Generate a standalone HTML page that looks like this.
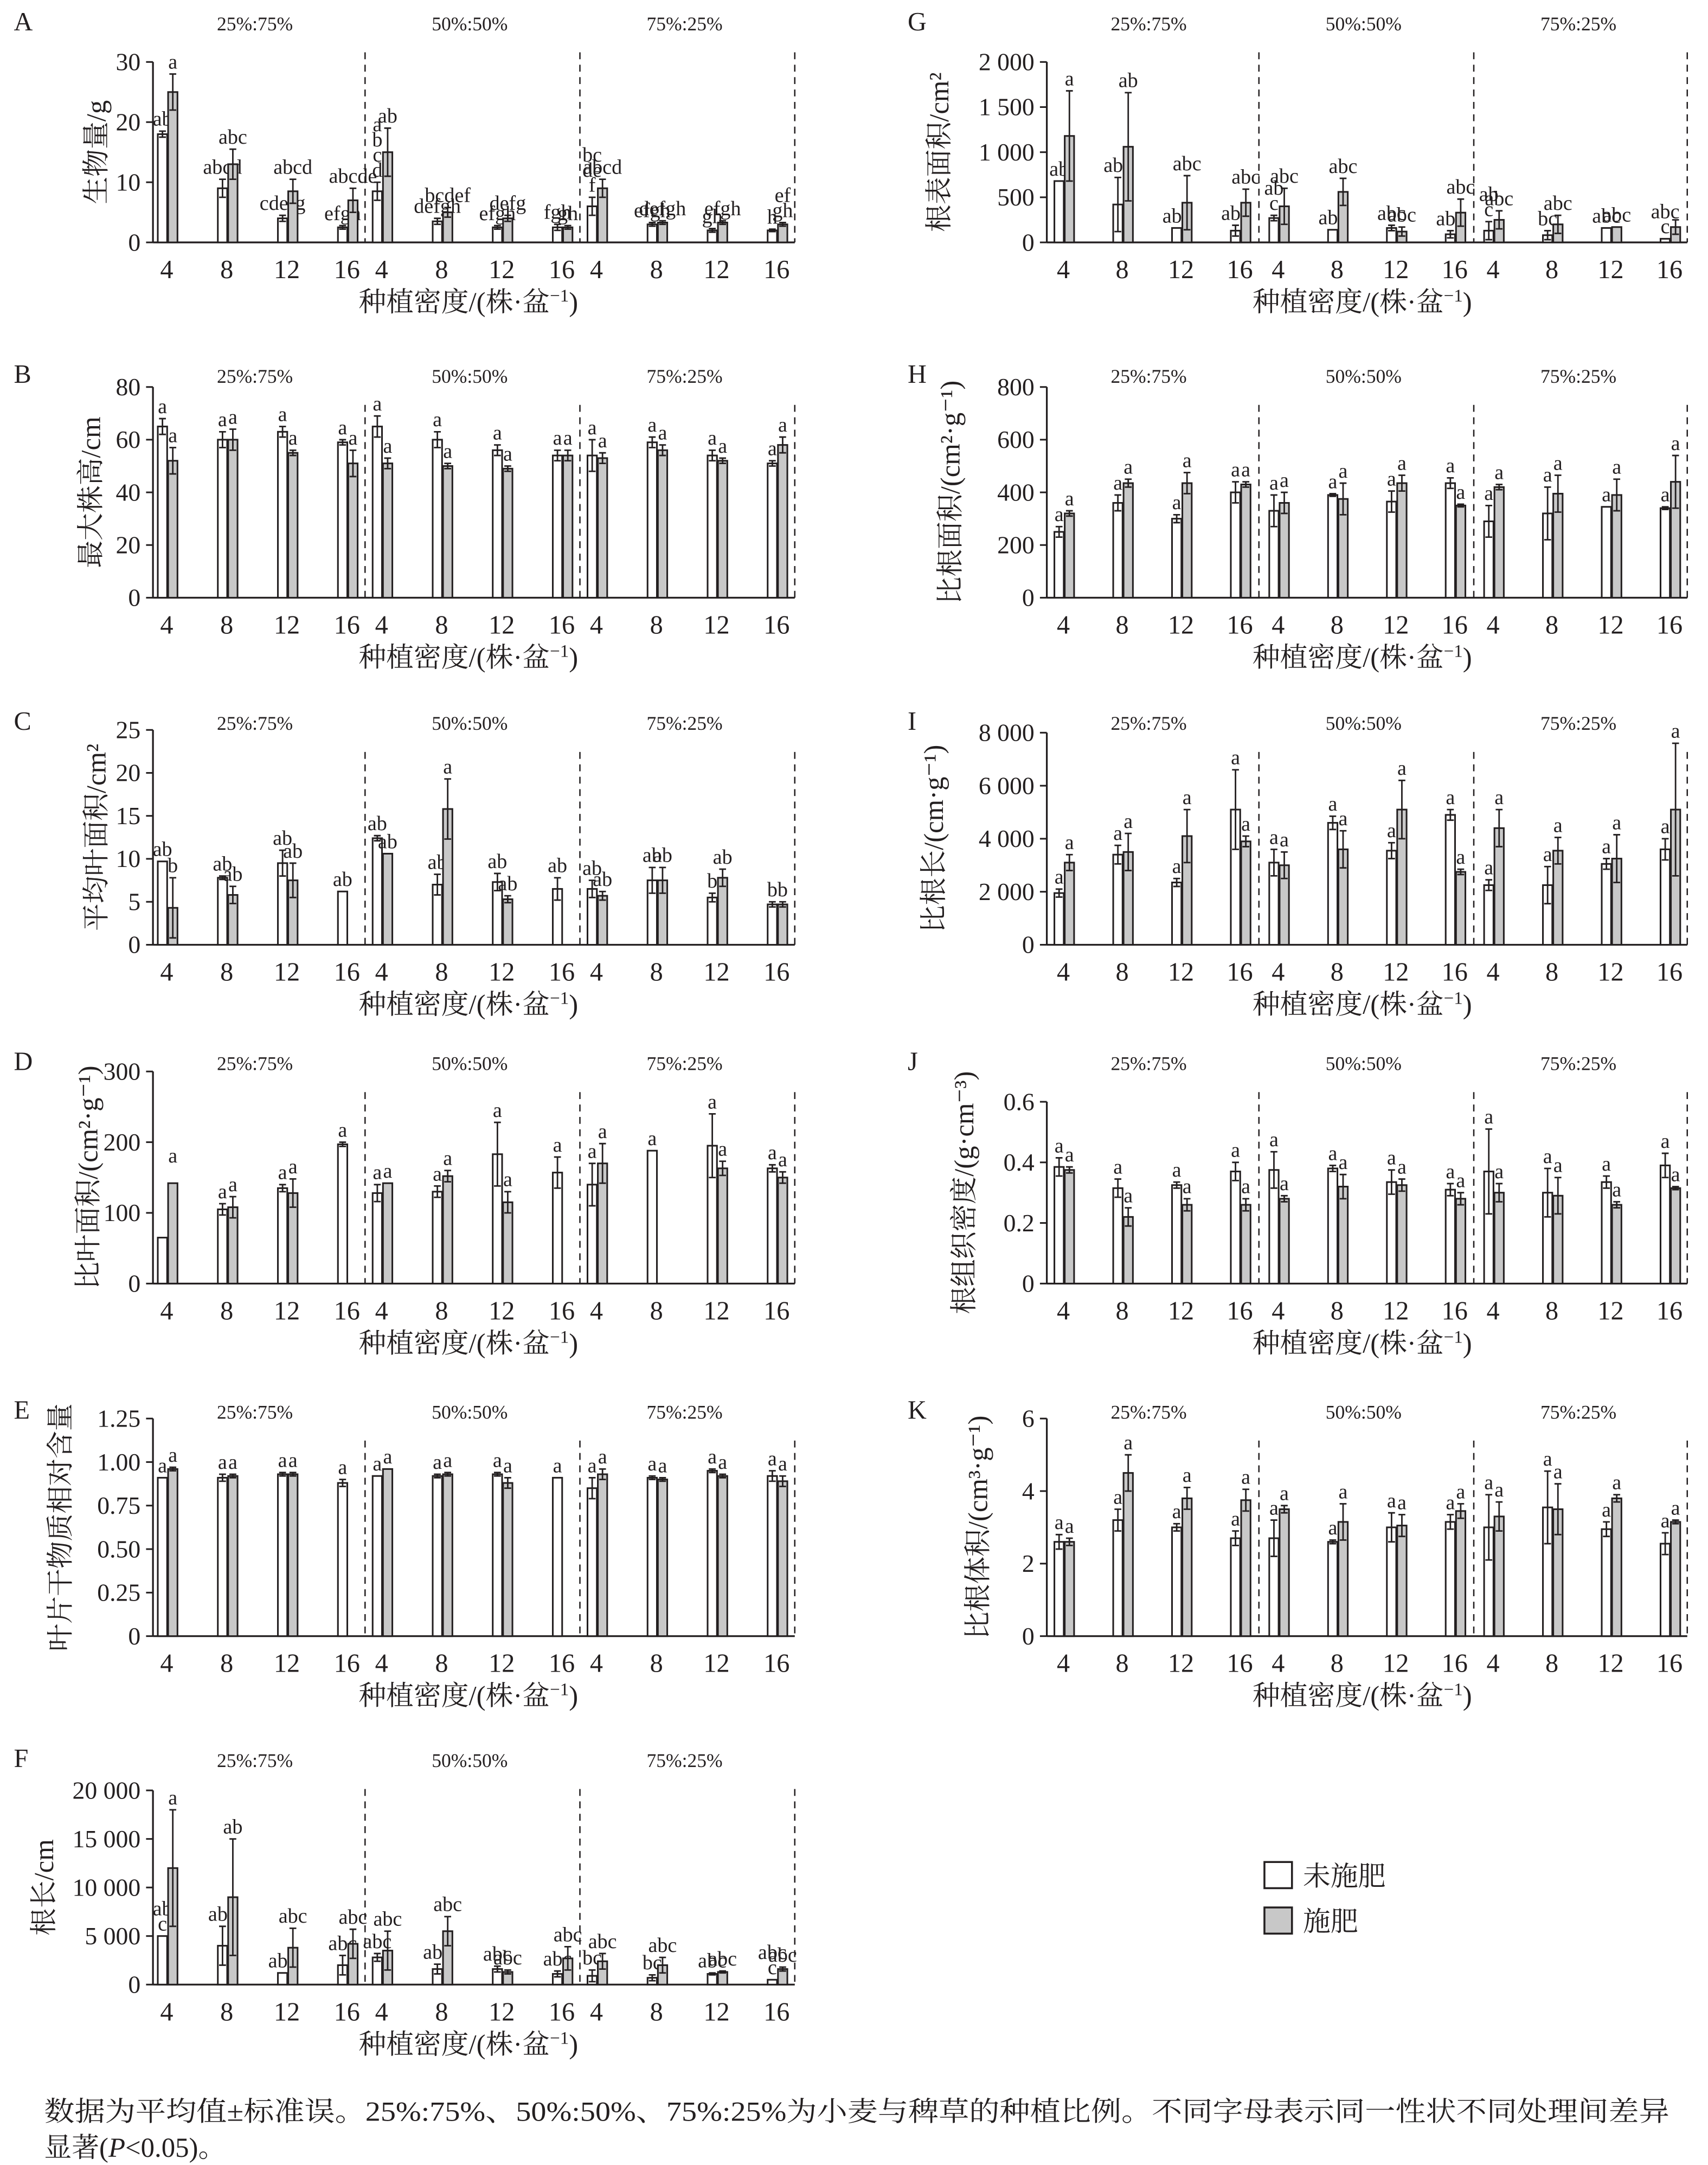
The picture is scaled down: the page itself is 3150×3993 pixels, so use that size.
<!DOCTYPE html>
<html><head><meta charset="utf-8">
<style>
html,body{margin:0;padding:0;background:#fff;}
svg{display:block;}
text{font-family:"Liberation Serif","Noto Serif CJK SC","Noto Sans CJK SC",serif;fill:#231f20;}
</style></head>
<body>
<svg id="s" xmlns="http://www.w3.org/2000/svg" width="3150" height="3993" viewBox="0 0 1240 1572">
<rect width="1240" height="1572" fill="#fff"/>
<g id="g"></g>
<rect x="918" y="1352" width="20" height="19" fill="#fff" stroke="#231f20" stroke-width="1.4"/>
<text x="946" y="1369" font-size="20">未施肥</text>
<rect x="918" y="1385" width="20" height="19" fill="#c8c8c8" stroke="#231f20" stroke-width="1.4"/>
<text x="946" y="1402" font-size="20">施肥</text>
<text x="32" y="1540" font-size="20" textLength="1180" lengthAdjust="spacingAndGlyphs">数据为平均值±标准误。25%:75%、50%:50%、75%:25%为小麦与稗草的种植比例。不同字母表示同一性状不同处理间差异</text>
<text x="32" y="1566" font-size="20">显著(<tspan font-style="italic">P</tspan>&lt;0.05)。</text>
</svg>
<script>
var P=[
{id:'A',c:0,r:0,yx:72,top:45,bot:176,max:30,t:[0,10,20,30],tl:['0','10','20','30'],yl:'生物量/g',d:[
[18,.5,'ab',25,3,'a'],[9,1.5,'abcd',13,2.5,'abc'],[4,.5,'cdefg',8.5,2,'abcd'],[2.5,.3,'efgh',7,2,'abcde'],
[8.5,1.5,'a|b|c|d',15,4,'ab'],[3.5,.5,'defgh',5,.8,'bcdef'],[2.5,.3,'efgh',4,.5,'defg'],[2.5,.5,'fgh',2.5,.3,'gh'],
[6,1.5,'bc|de|f',9,1.5,'abcd'],[3,.3,'efgh',3.3,.3,'defgh'],[2,.3,'gh',3.3,.3,'efgh'],[2,.2,'h',3,.3,'ef|gh']]},
{id:'B',c:0,r:1,yx:68,top:281,bot:434,max:80,t:[0,20,40,60,80],tl:['0','20','40','60','80'],yl:'最大株高/cm',d:[
[65,3,'a',52,5,'a'],[60,3,'a',60,4,'a'],[63,2,'a',55,1,'a'],[59,1,'a',51,5,'a'],
[65,4,'a',51,2,'a'],[60,3,'a',50,1,'a'],[56,2,'a',49,1,'a'],[54,2,'a',54,2,'a'],
[54,6,'a',53,2,'a'],[59,2,'a',56,2,'a'],[54,2,'a',52,1,'a'],[51,1,'a',58,3,'a']]},
{id:'C',c:0,r:2,yx:72,top:530,bot:686,max:25,t:[0,5,10,15,20,25],tl:['0','5','10','15','20','25'],yl:'平均叶面积/cm²',d:[
[9.7,0,'ab',4.3,3.5,'b'],[7.8,.2,'ab',5.8,1,'ab'],[9.5,1.5,'ab',7.5,2,'ab'],[6.2,0,'ab',null],
[12.4,.3,'ab',10.6,0,'ab'],[7,1.2,'ab',15.8,3.5,'a'],[7.3,1,'ab',5.3,.4,'ab'],[6.5,1.3,'ab',null],
[6.5,1,'ab',5.7,.5,'ab'],[7.5,1.5,'ab',7.5,1.5,'ab'],[5.5,.5,'b',7.8,1,'ab'],[4.7,.3,'b',4.7,.3,'b']]},
{id:'D',c:0,r:3,yx:66,top:778,bot:932,max:300,t:[0,100,200,300],tl:['0','100','200','300'],yl:'比叶面积/(cm²·g⁻¹)',d:[
[65,0,'',142,0,'a|'],[105,8,'a',108,15,'a'],[135,5,'a',128,20,'a'],[197,3,'a',null],
[128,12,'a',142,0,'a'],[130,8,'a',152,8,'a'],[183,45,'a',115,15,'a'],[157,22,'a',null],
[140,30,'a',170,28,'a'],[188,0,'a',null],[195,45,'a',163,10,'a'],[163,5,'a',150,8,'a']]},
{id:'E',c:0,r:4,yx:46,top:1030,bot:1188,max:1.25,t:[0,.25,.5,.75,1,1.25],tl:['0','0.25','0.50','0.75','1.00','1.25'],yl:'叶片干物质相对含量',d:[
[.91,0,'a',.96,.01,'a'],[.91,.02,'a',.92,.01,'a'],[.93,.01,'a',.93,.01,'a'],[.88,.02,'a',null],
[.92,0,'a',.96,0,'a'],[.92,.01,'a',.93,.01,'a'],[.93,.01,'a',.88,.03,'a'],[.91,0,'a',null],
[.85,.06,'a',.93,.03,'a'],[.91,.01,'a',.9,.01,'a'],[.95,.01,'a',.92,.01,'a'],[.92,.03,'a',.89,.03,'a']]},
{id:'F',c:0,r:5,yx:34,top:1300,bot:1441,max:20000,t:[0,5000,10000,15000,20000],tl:['0','5 000','10 000','15 000','20 000'],yl:'根长/cm',d:[
[5000,0,'ab|c',12000,6000,'a'],[4000,2000,'abc',9000,6000,'ab'],[1200,0,'abc',3800,2000,'abc'],[2000,1000,'abc',4200,1500,'abc'],
[2800,400,'abc',3500,2000,'abc'],[1600,500,'abc',5500,1500,'abc'],[1600,300,'abc',1300,200,'abc'],[1100,300,'abc',2700,1200,'abc'],
[900,600,'bc',2400,800,'abc'],[700,300,'bc',2000,800,'abc'],[1100,100,'abc',1300,100,'abc'],[500,0,'abc|c',1600,200,'abc']]},
{id:'G',c:1,r:0,yx:684,top:45,bot:176,max:2000,t:[0,500,1000,1500,2000],tl:['0','500','1 000','1 500','2 000'],yl:'根表面积/cm²',d:[
[680,0,'ab',1180,500,'a'],[420,300,'abc',1060,600,'ab'],[160,0,'abc',440,300,'abc'],[130,60,'abc',440,150,'abc'],
[270,30,'ab|c',400,200,'abc'],[140,0,'abc',560,150,'abc'],[160,30,'abc',120,50,'abc'],[90,40,'abc',330,150,'abc'],
[130,100,'ab|c',250,100,'abc'],[80,50,'bc',200,100,'abc'],[160,0,'abc',170,0,'abc'],[40,0,'abc|c',170,80,'']]},
{id:'H',c:1,r:1,yx:692,top:281,bot:434,max:800,t:[0,200,400,600,800],tl:['0','200','400','600','800'],yl:'比根面积/(cm²·g⁻¹)',d:[
[250,20,'a',320,10,'a'],[360,30,'a',435,15,'a'],[300,15,'a',435,40,'a'],[400,40,'a',430,10,'a'],
[330,60,'a',360,40,'a'],[390,5,'a',375,60,'a'],[365,40,'a',435,30,'a'],[435,20,'a',350,5,'a'],
[290,60,'a',420,10,'a'],[320,100,'a',395,70,'a'],[345,0,'a',390,60,'a'],[340,5,'a',440,100,'a']]},
{id:'I',c:1,r:2,yx:680,top:532,bot:686,max:8000,t:[0,2000,4000,6000,8000],tl:['0','2 000','4 000','6 000','8 000'],yl:'比根长/(cm·g⁻¹)',d:[
[1950,150,'a',3100,300,'a'],[3400,350,'a',3500,700,'a'],[2350,150,'a',4100,1000,'a'],[5100,1500,'a',3900,200,'a'],
[3100,500,'a',3000,500,'a'],[4600,250,'a',3600,700,'a'],[3550,300,'a',5100,1100,'a'],[4900,200,'a',2750,100,'a'],
[2250,200,'a',4400,700,'a'],[2250,700,'a',3550,500,'a'],[3050,200,'a',3250,900,'a'],[3600,400,'a',5100,2500,'a']]},
{id:'J',c:1,r:3,yx:702,top:800,bot:932,max:.6,t:[0,.2,.4,.6],tl:['0','0.2','0.4','0.6'],yl:'根组织密度/(g·cm⁻³)',d:[
[.385,.03,'a',.375,.01,'a'],[.315,.03,'a',.22,.03,'a'],[.325,.01,'a',.26,.02,'a'],[.37,.03,'a',.26,.02,'a'],
[.375,.06,'a',.28,.01,'a'],[.38,.01,'a',.32,.04,'a'],[.335,.04,'a',.325,.02,'a'],[.31,.02,'a',.28,.02,'a'],
[.37,.14,'a',.3,.03,'a'],[.3,.08,'a',.29,.06,'a'],[.335,.02,'a',.26,.01,'a'],[.39,.04,'a',.315,.005,'a']]},
{id:'K',c:1,r:4,yx:712,top:1030,bot:1188,max:6,t:[0,2,4,6],tl:['0','2','4','6'],yl:'比根体积/(cm³·g⁻¹)',d:[
[2.6,.2,'a',2.6,.1,'a'],[3.2,.3,'a',4.5,.5,'a'],[3,.1,'a',3.8,.3,'a'],[2.7,.2,'a',3.75,.3,'a'],
[2.7,.5,'a',3.5,.1,'a'],[2.6,.05,'a',3.15,.5,'a'],[3,.4,'a',3.05,.3,'a'],[3.15,.2,'a',3.45,.2,'a'],
[3,.9,'a',3.3,.4,'a'],[3.55,1,'a',3.5,.7,'a'],[2.95,.2,'a',3.8,.1,'a'],[2.55,.3,'a',3.15,.05,'a']]}
];
var rowStart=[0,256,508,755,1008,1261];
var C=[{ax:111,c0:122,sp:43.6,gw:156,dash:[265,421,577]},{ax:760,c0:773,sp:42.7,gw:156,dash:[914,1070,1225]}];
var h='',K='#231f20';
function T(x,y,s,sz,a,extra){return '<text x="'+x+'" y="'+y+'" font-size="'+sz+'" text-anchor="'+(a||'middle')+'" '+(extra||'')+'>'+s+'</text>';}
P.forEach(function(p){
 var c=C[p.c],rs=rowStart[p.r],right=c.dash[2];
 function Y(v){return p.bot-(v/p.max)*(p.bot-p.top);}
 h+=T(c.ax-101,rs+22,p.id,19,'start');
 ['25%:75%','50%:50%','75%:25%'].forEach(function(s,i){h+=T(c.ax+74+i*156,rs+22,s,14);});
 c.dash.forEach(function(x){h+='<line x1="'+x+'" y1="'+(rs+38)+'" x2="'+x+'" y2="'+p.bot+'" stroke="'+K+'" stroke-width="1" stroke-dasharray="5,4"/>';});
 h+='<line x1="'+c.ax+'" y1="'+p.top+'" x2="'+c.ax+'" y2="'+p.bot+'" stroke="'+K+'" stroke-width="1.3"/>';
 h+='<line x1="'+c.ax+'" y1="'+p.bot+'" x2="'+right+'" y2="'+p.bot+'" stroke="'+K+'" stroke-width="1.3"/>';
 p.t.forEach(function(v,i){var y=Y(v);h+='<line x1="'+(c.ax-5)+'" y1="'+y+'" x2="'+c.ax+'" y2="'+y+'" stroke="'+K+'" stroke-width="1.2"/>';h+=T(c.ax-9,y+6,p.tl[i],18,'end');});
 var mid=(p.top+p.bot)/2;
 h+=T(p.yx,mid,p.yl,20,'middle','transform="rotate(-90 '+p.yx+' '+mid+')" dominant-baseline="middle"');
 for(var i=0;i<12;i++){
  var g=Math.floor(i/4),k=i%4,cx=c.c0+g*c.gw+k*c.sp,d=p.d[i];
  h+=T(cx-1,p.bot+26,['4','8','12','16'][k],19);
  [[d[0],d[1],d[2],cx-7.5,'#fff'],[d[3],d[4],d[5],cx,'#c8c8c8']].forEach(function(b){
   if(b[0]==null)return;
   var yt=Y(b[0]);
   h+='<rect x="'+b[3]+'" y="'+yt+'" width="6.8" height="'+(p.bot-yt)+'" fill="'+b[4]+'" stroke="'+K+'" stroke-width="1.2"/>';
   var bx=b[3]+3.4,top=yt;
   if(b[1]>0){var y1=Y(b[0]+b[1]),y2=Y(Math.max(0,b[0]-b[1]));top=y1;
    h+='<path d="M'+bx+' '+y1+'V'+y2+'M'+(bx-2.5)+' '+y1+'H'+(bx+2.5)+'M'+(bx-2.5)+' '+y2+'H'+(bx+2.5)+'" stroke="'+K+'" stroke-width="1.1" fill="none"/>';}
   if(b[2]){var ls=b[2].split('|');for(var j=0;j<ls.length;j++){if(!ls[j])continue;h+=T(bx,top-4-(ls.length-1-j)*11,ls[j],15);}}
  });
 }
 h+=T(c.ax+229,p.bot+50,'种植密度/(株·盆<tspan baseline-shift="super" font-size="13">−1</tspan>)',20);
});
document.getElementById('g').innerHTML=h;
</script>
</body></html>
